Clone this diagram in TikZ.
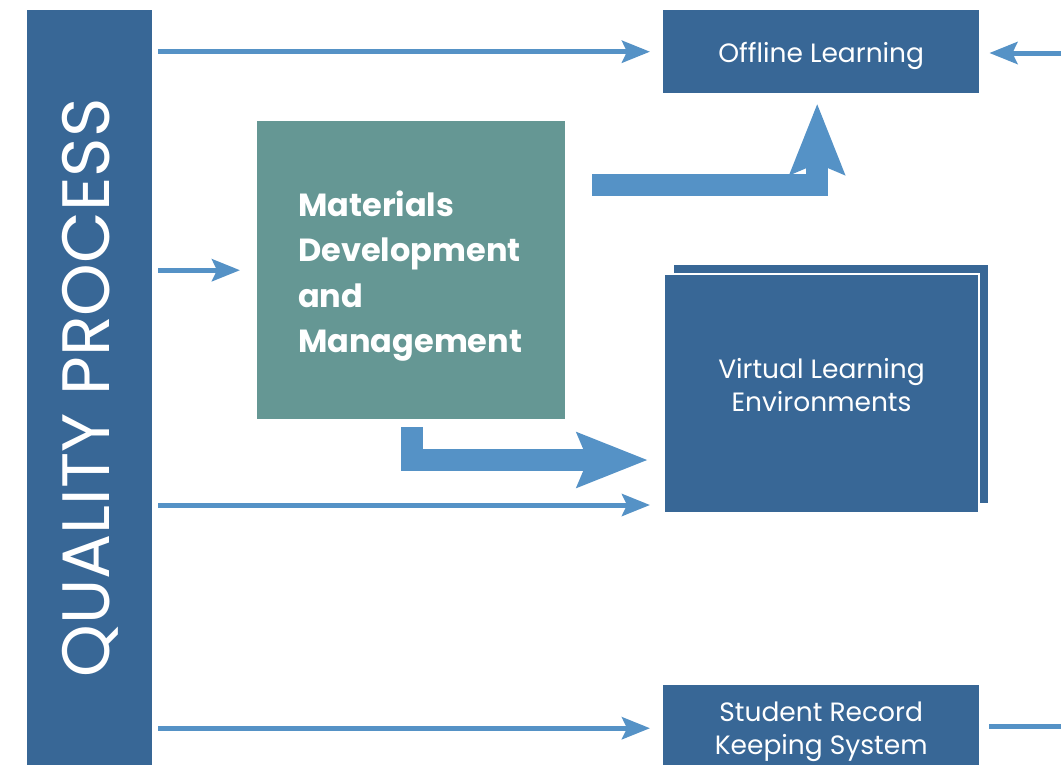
\documentclass[tikz,border=0pt]{standalone}
\usepackage{fontspec}
\setmainfont{Poppins}
\usetikzlibrary{arrows.meta}
\definecolor{qpblue}{HTML}{386796}
\definecolor{arrowblue}{HTML}{5592C6}
\definecolor{matteal}{HTML}{659794}
\tikzset{
    box/.style={fill=qpblue, inner sep=0pt, anchor=north west},
    boxtext/.style={text=white, inner sep=0pt, align=center,
        font=\fontsize{26.5}{33}\selectfont},
    flowarrow/.style={arrowblue, line width=5pt,
        -{Stealth[length=28pt,width=22pt,inset=5pt]}},
    flowline/.style={arrowblue, line width=5pt},
    bigarrow/.style={arrowblue, line width=22pt, line join=miter,
        -{Stealth[length=70pt,width=53pt,inset=10pt]}}
}

\begin{document}
\begin{tikzpicture}[x=1pt,y=-1pt]
    \useasboundingbox (0,0) rectangle (1061,764);

    % quality process bar
    \node[box, minimum width=125pt, minimum height=780pt] (qp) at (27,10) {};
    \node[rotate=90, text=white, font=\fontsize{67}{70}\selectfont]
        (qptext) at (90,388) {QUALITY PROCESS};

    % boxes
    \node[box, minimum width=316pt, minimum height=83pt] (offline) at (663,10) {};
    \node[boxtext] (offlinetext) at ([yshift=-4pt]offline.center) {Offline Learning};

    \node[box, fill=matteal, minimum width=308pt, minimum height=298pt] (matdev) at (257,121) {};
    \node[boxtext, align=left, text width=226pt, font=\bfseries\fontsize{32}{45.5}\selectfont]
        (matdevtext) at ([yshift=-6pt]matdev.center)
        {Materials\\Development\\and\\Management};

    \node[box, minimum width=314pt, minimum height=238pt] (vleback) at (674,265) {};
    \node[box, draw=white, line width=2pt, minimum width=315pt, minimum height=239pt]
        (vle) at (663,273) {};
    \node[boxtext] (vletext) at ([yshift=8pt]vle.center) {Virtual Learning\\Environments};

    \node[box, minimum width=316pt, minimum height=86pt] (srks) at (663,685) {};
    \node[boxtext] (srkstext) at ([yshift=-4pt]srks.center) {Student Record\\Keeping System};

    % free ends
    \coordinate (vlein) at (663,505);
    \coordinate (offin) at (1075,53);
    \coordinate (srout) at (1075,726);

    % thin arrows
    \draw[flowarrow, shorten <=6pt, shorten >=13pt] (qp.east |- offline.west) -- (offline.west);
    \draw[flowarrow, shorten <=6pt, shorten >=17pt] (qp.east |- matdev.west) -- (matdev.west);
    \draw[flowarrow, shorten <=6pt, shorten >=13pt] (qp.east |- vlein) -- (vlein);
    \draw[flowarrow, shorten <=6pt, shorten >=13pt] (qp.east |- srks.west) -- (srks.west);
    \draw[flowarrow, shorten >=10pt] (offin) -- (offline.east |- offin);
    \draw[flowline, shorten <=10pt] (srks.east |- srout) -- (srout);

    % big arrows
    \draw[bigarrow] ([xshift=27pt,yshift=-64pt]matdev.north east) -| ([xshift=-4pt,yshift=-10pt]offline.south);
    \draw[bigarrow] ([xshift=155pt,yshift=-8pt]matdev.south west) |- ([xshift=-15pt,yshift=-66.5pt]vle.west);
\end{tikzpicture}
\end{document}
